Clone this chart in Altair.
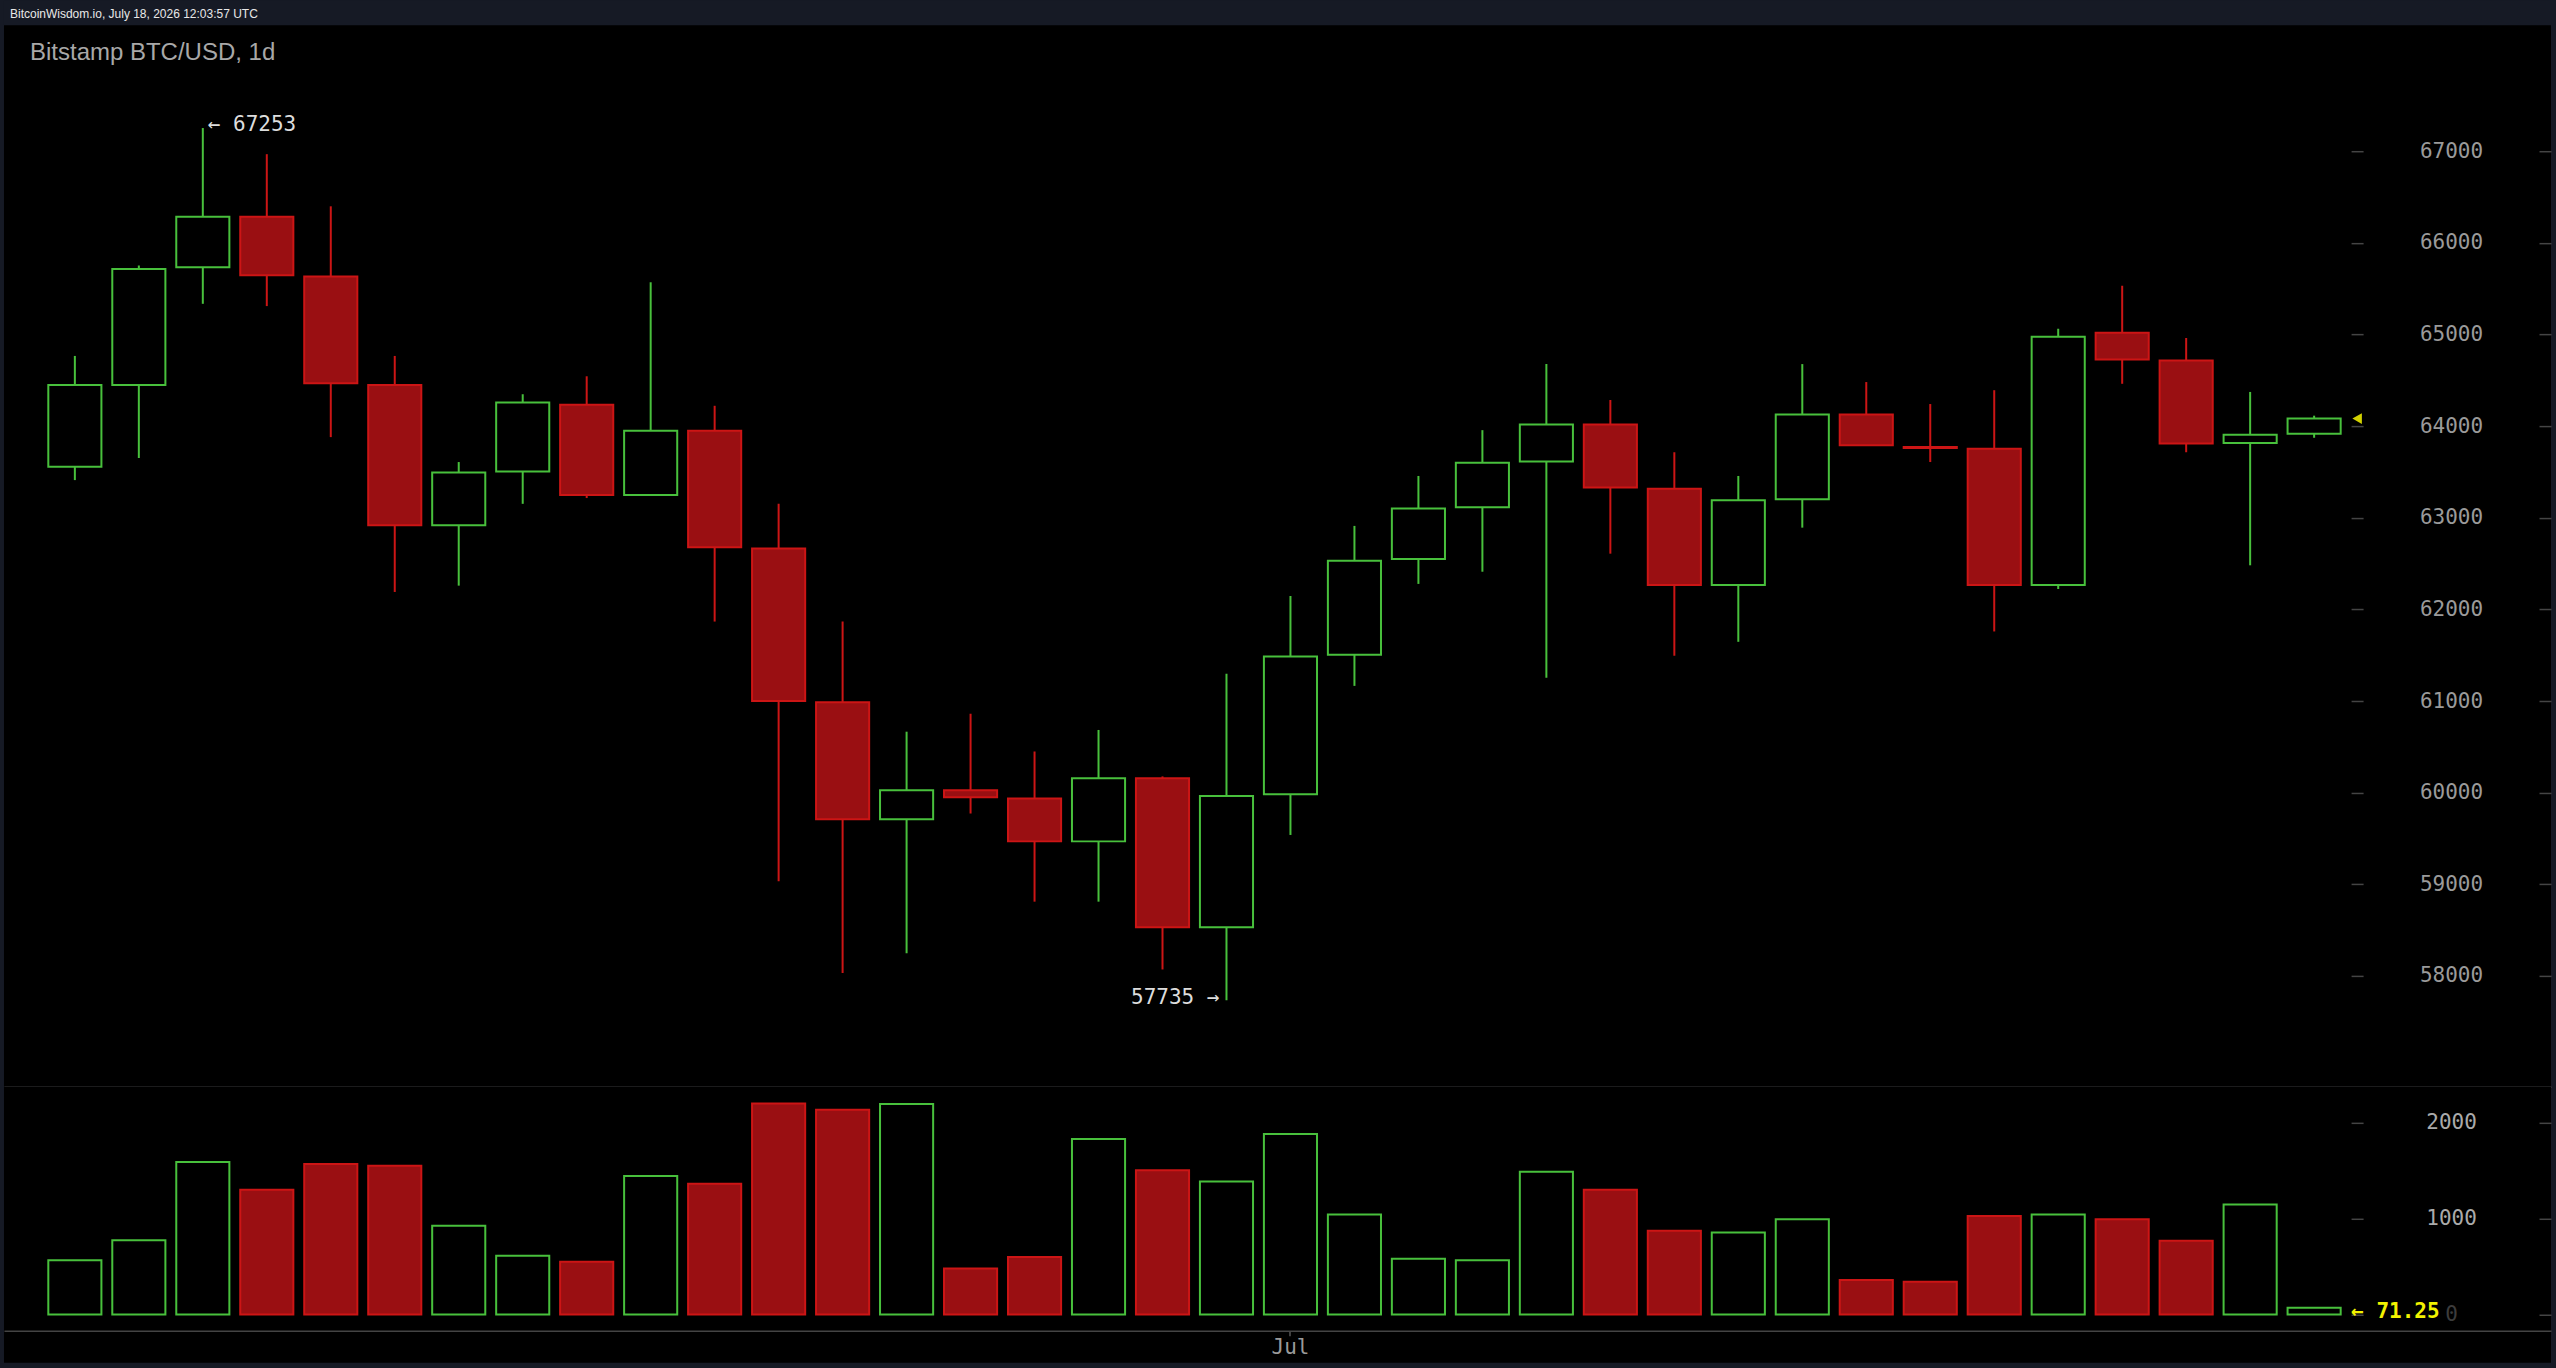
import altair as alt
import numpy as np
import pandas as pd

# ---------------- data ----------------
days = pd.date_range("2024-06-12", periods=36, freq="D").strftime("%Y-%m-%d").tolist()
# empty future days keep room on the right for the price axis
axis_days = days + pd.date_range("2024-07-18", periods=3, freq="D").strftime("%Y-%m-%d").tolist()

opens = [63557, 64449, 65734, 66285, 65633, 64449, 62918, 63506, 64234, 63247,
         63949, 62665, 60987, 59709, 60025, 59937, 59468, 60158, 58532, 59981,
         61506, 62551, 63114, 63614, 64019, 63316, 62266, 63203, 64127, 63772,
         63753, 62266, 65019, 64715, 63816, 63918]
highs = [64766, 65753, 67253, 66968, 66399, 64766, 63608, 64348, 64544, 65570,
         64222, 63152, 61867, 60665, 60861, 60449, 60684, 60177, 61297, 62146,
         62911, 63456, 63956, 64677, 64285, 63715, 63456, 64677, 64481, 64241,
         64392, 65063, 65532, 64962, 64373, 64114]
lows = [63411, 63652, 65335, 65310, 63880, 62190, 62259, 63152, 63215, 63240,
        61867, 59032, 58032, 58247, 59772, 58810, 58810, 58070, 57735, 59538,
        61165, 62278, 62411, 61253, 62608, 61494, 61646, 62892, 63791, 63608,
        61759, 62222, 64462, 63715, 62481, 63873]
closes = [64449, 65715, 66285, 65646, 64468, 62918, 63494, 64259, 63247, 63949,
          62677, 61000, 59709, 60025, 59949, 59468, 60158, 58532, 59962, 61487,
          62532, 63101, 63601, 64019, 63329, 62266, 63190, 64127, 63791, 63760,
          62266, 64975, 64728, 63810, 63905, 64082]
volumes = [566, 774, 1590, 1299, 1569, 1549, 924, 611, 549, 1444,
           1361, 2198, 2132, 2194, 479, 598, 1829, 1504, 1385, 1880,
           1043, 581, 564, 1487, 1299, 872, 855, 991, 359, 342,
           1026, 1043, 991, 769, 1145, 71.25]

price_ticks = [58000, 59000, 60000, 61000, 62000, 63000, 64000, 65000, 66000, 67000]
volume_ticks = [0, 1000, 2000]
month_tick = ["2024-07-01"]

HEADER = "BitcoinWisdom.io, July 18, 2026 12:03:57 UTC"
TITLE = "Bitstamp BTC/USD, 1d"

df = pd.DataFrame({"day": days, "open": opens, "high": highs, "low": lows,
                   "close": closes, "volume": volumes})
df["dir"] = np.where(df["close"] >= df["open"], "up", "down")
df["zero"] = 0

imax = int(df["high"].idxmax())
imin = int(df["low"].idxmin())
hi_df = pd.DataFrame({"day": [days[imax]], "v": [highs[imax]], "t": [f"\u2190 {highs[imax]}"]})
lo_df = pd.DataFrame({"day": [days[imin]], "v": [lows[imin]], "t": [f"{lows[imin]} \u2192"]})
last_df = pd.DataFrame({"day": [days[-1]], "close": [closes[-1]], "volume": [volumes[-1]],
                        "t": [f"\u2190 {volumes[-1]}"]})

# ---------------- styling ----------------
W = 2548
NAVY = "#161a25"
GREEN = "#48c03c"
RED_FILL = "#9a0f12"
RED_LINE = "#cc1515"
MONO = "DejaVu Sans Mono"

xscale = alt.Scale(domain=axis_days, paddingInner=0.17, paddingOuter=0.49, align=0.7067)
fill_scale = alt.Scale(domain=["up", "down"], range=["#000000", RED_FILL])
stroke_scale = alt.Scale(domain=["up", "down"], range=[GREEN, RED_LINE])

price_scale = alt.Scale(domain=[56789, 68375], nice=False, zero=False)
vol_scale = alt.Scale(domain=[-503, 2372], nice=False, zero=False)

x_price = alt.X("day:O", scale=xscale,
                axis=alt.Axis(labels=False, ticks=False, domainColor="#444444",
                              domainWidth=1.5, title=None, grid=False))

price_axis = alt.Axis(orient="right", offset=-200, values=price_ticks, format="d",
                      tickSize=12, tickColor="#444444", tickWidth=1.5, domain=False,
                      grid=False, labelFont=MONO, labelFontSize=21, labelColor="#9a9a9a",
                      labelAlign="center", labelPadding=88, title=None)
price_edge_axis = alt.Axis(orient="right", offset=-12, values=price_ticks, tickSize=12,
                           tickColor="#444444", tickWidth=1.5, domain=False, grid=False,
                           labels=False, title=None)

base = alt.Chart(df)

wicks = base.mark_rule(strokeWidth=2).encode(
    x=x_price,
    y=alt.Y("low:Q", scale=price_scale, axis=price_axis),
    y2="high:Q",
    stroke=alt.Stroke("dir:N", scale=stroke_scale, legend=None),
)
bodies = base.mark_bar(strokeWidth=2).encode(
    x=x_price,
    y=alt.Y("open:Q", scale=price_scale, axis=None),
    y2="close:Q",
    fill=alt.Fill("dir:N", scale=fill_scale, legend=None),
    stroke=alt.Stroke("dir:N", scale=stroke_scale, legend=None),
)
edge = alt.Chart(last_df).mark_point(opacity=0).encode(
    x=x_price,
    y=alt.Y("close:Q", scale=price_scale, axis=price_edge_axis),
)
hi_text = alt.Chart(hi_df).mark_text(align="left", baseline="middle", dx=5, dy=-3,
                                     font=MONO, fontSize=21, color="#dddddd").encode(
    x=x_price, y=alt.Y("v:Q", scale=price_scale, axis=None), text="t:N")
lo_text = alt.Chart(lo_df).mark_text(align="right", baseline="middle", dx=-7, dy=-2,
                                     font=MONO, fontSize=21, color="#dddddd").encode(
    x=x_price, y=alt.Y("v:Q", scale=price_scale, axis=None), text="t:N")
marker = alt.Chart(last_df).mark_point(shape="triangle-left", filled=True, size=120,
                                       color="#d2d200", opacity=1, xOffset=43).encode(
    x=x_price, y=alt.Y("close:Q", scale=price_scale, axis=None))
title = alt.Chart(pd.DataFrame({"t": [TITLE]})).mark_text(
    align="left", baseline="middle", font="Liberation Sans", fontSize=24,
    color="#a8a8a8").encode(x=alt.value(26), y=alt.value(28), text="t:N")

price = alt.layer(wicks, bodies, edge, hi_text, lo_text, marker, title).resolve_axis(
    y="independent").properties(
    width=W, height=1062, view=alt.ViewBackground(fill="#000000", strokeWidth=0))

# ---------------- volume panel ----------------
vol_axis = alt.Axis(orient="right", offset=-200, values=volume_ticks, format="d",
                    tickSize=12, tickColor="#444444", tickWidth=1.5, domain=False,
                    grid=False, labelFont=MONO, labelFontSize=21,
                    labelColor=alt.condition("datum.value == 0", alt.value("#3c3c3c"),
                                             alt.value("#aaaaaa")),
                    labelAlign="center", labelPadding=88, title=None)
vol_edge_axis = alt.Axis(orient="right", offset=-12, values=volume_ticks, tickSize=12,
                         tickColor="#444444", tickWidth=1.5, domain=False, grid=False,
                         labels=False, title=None)
x_vol = alt.X("day:O", scale=xscale,
              axis=alt.Axis(orient="bottom", offset=-32, values=month_tick,
                            labelExpr="'Jul'", labelAngle=0, labelAlign="center",
                            labelBaseline="top", tickSize=5, tickColor="#555555",
                            tickWidth=1.5, domainColor="#444444", domainWidth=1.5,
                            labelFont=MONO, labelFontSize=21, labelColor="#9a9a9a",
                            labelPadding=1, title=None, grid=False))

vbars = base.mark_bar(strokeWidth=2).encode(
    x=x_vol,
    y=alt.Y("volume:Q", scale=vol_scale, axis=vol_axis),
    y2="zero:Q",
    fill=alt.Fill("dir:N", scale=fill_scale, legend=None),
    stroke=alt.Stroke("dir:N", scale=stroke_scale, legend=None),
)
vedge = alt.Chart(last_df).mark_point(opacity=0).encode(
    x=x_vol,
    y=alt.Y("volume:Q", scale=vol_scale, axis=vol_edge_axis),
)
vtext = alt.Chart(last_df).mark_text(align="left", baseline="middle", dx=37, dy=4,
                                     font=MONO, fontSize=21, fontWeight="bold",
                                     color="#f2f200").encode(
    x=x_vol, y=alt.Y("volume:Q", scale=vol_scale, axis=None), text="t:N")

volume = alt.layer(vbars, vedge, vtext).resolve_axis(y="independent").properties(
    width=W, height=276, view=alt.ViewBackground(fill="#000000", strokeWidth=0))

# ---------------- header strip ----------------
header = alt.Chart(pd.DataFrame({"t": [HEADER]})).mark_text(
    align="left", baseline="middle", font="Liberation Sans", fontSize=12,
    color="#e8e8e8").encode(x=alt.value(6), y=alt.value(13.5), text="t:N").properties(
    width=W, height=25, view=alt.ViewBackground(fill=NAVY, strokeWidth=0))

chart = alt.vconcat(header, price, volume, spacing=0).properties(
    padding={"left": 4, "right": 4, "top": 0, "bottom": 5},
    background=NAVY,
).configure_view(strokeWidth=0).configure_axis(grid=False)

chart.save("out.html", embed_options={"renderer": "svg", "actions": False})
